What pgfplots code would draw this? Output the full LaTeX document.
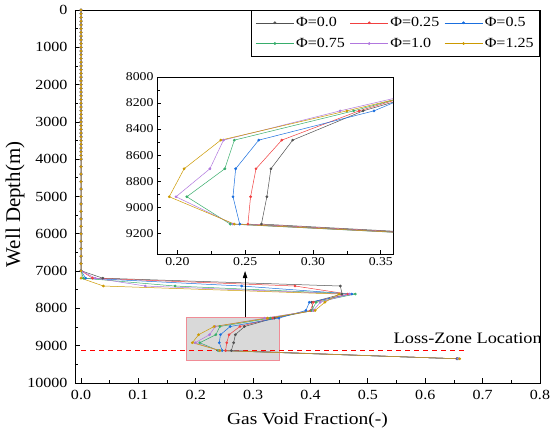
\documentclass[border=0pt]{standalone}
\usepackage{fontspec}
\setmainfont{Liberation Serif}[FakeStretch=1.15]
\newfontfamily\plainserif{Liberation Serif}
\usepackage{pgfplots}
\pgfplotsset{compat=1.18}
\usepackage{pgfplotstable}
\usetikzlibrary{arrows.meta}

\definecolor{c0}{HTML}{515151}
\definecolor{c1}{HTML}{F14040}
\definecolor{c2}{HTML}{1A6FDF}
\definecolor{c3}{HTML}{37AD6B}
\definecolor{c4}{HTML}{B177DE}
\definecolor{c5}{HTML}{CC9900}
\definecolor{lzred}{rgb}{1,0,0}
\definecolor{boxred}{HTML}{F08C96}
\definecolor{boxgray}{HTML}{D9D9D9}

\pgfplotstableread{
d p0 p1 p2 p3 p4 p5
0 0 0 0 0 0 0
100 0 0 0 0 0 0
200 0 0 0 0 0 0
300 0 0 0 0 0 0
400 0 0 0 0 0 0
500 0 0 0 0 0 0
600 0 0 0 0 0 0
700 0 0 0 0 0 0
800 0 0 0 0 0 0
900 0 0 0 0 0 0
1000 0 0 0 0 0 0
1100 0 0 0 0 0 0
1200 0 0 0 0 0 0
1300 0 0 0 0 0 0
1400 0 0 0 0 0 0
1500 0 0 0 0 0 0
1600 0 0 0 0 0 0
1700 0 0 0 0 0 0
1800 0 0 0 0 0 0
1900 0 0 0 0 0 0
2000 0 0 0 0 0 0
2100 0 0 0 0 0 0
2200 0 0 0 0 0 0
2300 0 0 0 0 0 0
2400 0 0 0 0 0 0
2500 0 0 0 0 0 0
2600 0 0 0 0 0 0
2700 0 0 0 0 0 0
2800 0 0 0 0 0 0
2900 0 0 0 0 0 0
3000 0 0 0 0 0 0
3100 0 0 0 0 0 0
3200 0 0 0 0 0 0
3300 0 0 0 0 0 0
3400 0 0 0 0 0 0
3500 0 0 0 0 0 0
3600 0 0 0 0 0 0
3700 0 0 0 0 0 0
3800 0 0 0 0 0 0
3900 0 0 0 0 0 0
4000 0 0 0 0 0 0
4200 0 0 0 0 0 0
4400 0 0 0 0 0 0
4600 0 0 0 0 0 0
4800 0 0 0 0 0 0
5000 0 0 0 0 0 0
5200 0 0 0 0 0 0
5400 0 0 0 0 0 0
5600 0 0 0 0 0 0
5800 0 0 0 0 0 0
6000 0 0 0 0 0 0
6200 0 0 0 0 0 0
6400 0 0 0 0 0 0
6600 0 0 0 0 0 0
6800 0 0 0 0 0 0
6990 0 0 0 0 0 0
7190 0.038 0.020 0.008 0.004 0.025 0.000
7400 0.452 0.373 0.280 0.164 0.112 0.039
7615 0.455 0.465 0.472 0.478 0.468 0.450
7835 0.402 0.405 0.398 0.410 0.417 0.425
8055 0.405 0.400 0.392 0.402 0.405 0.408
8260 0.337 0.334 0.345 0.330 0.320 0.325
8485 0.285 0.277 0.260 0.242 0.234 0.232
8705 0.269 0.258 0.243 0.235 0.224 0.205
8920 0.266 0.254 0.241 0.207 0.199 0.194
9130 0.262 0.252 0.246 0.239 0.241 0.242
9350 0.655 0.655 0.656 0.657 0.658 0.660
}\gvf

\pgfplotsset{
  ser/.style={line width=0.5pt, mark=*, mark size=1.1pt},
}

\begin{document}
\begin{tikzpicture}
\begin{axis}[
  scale only axis, width=465bp, height=373bp,
  xmin=-0.0105, xmax=0.8, ymin=0, ymax=10000, y dir=reverse,
  xtick={0,0.1,0.2,0.3,0.4,0.5,0.6,0.7,0.8}, minor x tick num=1,
  ytick={0,1000,2000,3000,4000,5000,6000,7000,8000,9000,10000}, minor y tick num=1,
  scaled ticks=false,
  tick align=inside, tick pos=left,
  major tick length=5bp, minor tick length=3bp,
  tick style={black, line width=0.8pt},
  axis line style={line width=1pt},
  xticklabel style={/pgf/number format/fixed, /pgf/number format/fixed zerofill, /pgf/number format/precision=1, yshift=-4bp},
  yticklabel style={/pgf/number format/set thousands separator={}, xshift=-4bp},
  /pgf/number format/assume math mode=true,
  tick label style={font=\fontsize{14}{16}\selectfont},
  xlabel={Gas Void Fraction(-)}, ylabel={Well Depth(m)},
  xlabel style={font=\fontsize{17}{20}\selectfont, yshift=-6bp},
  every axis y label/.style={at={(axis description cs:-0.129,0.479)}, rotate=90, anchor=center},
  ylabel style={font=\plainserif\fontsize{21}{24}\selectfont},
  legend columns=3,
  legend style={at={(1,1)}, anchor=north east, draw=black, line width=0.8pt,
    font=\fontsize{14}{16}\selectfont, inner xsep=4bp, inner ysep=5bp, row sep=6bp,
    /tikz/every even column/.append style={column sep=3bp}},
  legend cell align=left,
  legend image code/.code={\draw[mark repeat=2,mark phase=2] plot coordinates {(0bp,0bp) (19bp,0bp) (38bp,0bp)};},
]
\fill[boxgray] (axis cs:0.184,8240) rectangle (axis cs:0.346,9400);
\draw[boxred, line width=0.7pt] (axis cs:0.184,8240) rectangle (axis cs:0.346,9400);
\addplot[forget plot, no marks, color=lzred, solid, line width=1.1pt, dash pattern=on 5bp off 4bp] coordinates {(0,9140) (0.667,9140)};
\addplot[ser, c0] table[x=p0,y=d]{\gvf}; \addlegendentry{Φ=0.0}
\addplot[ser, c1] table[x=p1,y=d]{\gvf}; \addlegendentry{Φ=0.25}
\addplot[ser, c2] table[x=p2,y=d]{\gvf}; \addlegendentry{Φ=0.5}
\addplot[ser, c3] table[x=p3,y=d]{\gvf}; \addlegendentry{Φ=0.75}
\addplot[ser, c4] table[x=p4,y=d]{\gvf}; \addlegendentry{Φ=1.0}
\addplot[ser, c5] table[x=p5,y=d]{\gvf}; \addlegendentry{Φ=1.25}
\node[font=\fontsize{16}{19}\selectfont] at (axis cs:0.674,8790) {Loss-Zone Location};
\draw[-{Triangle[length=7bp,width=4.5bp]}, line width=0.6pt] (axis cs:0.286,8240) -- (axis cs:0.286,7000);
\end{axis}
\begin{axis}[
  at={(82bp,129bp)}, anchor=south west,
  scale only axis, width=236bp, height=177bp,
  xmin=0.185, xmax=0.359, ymin=8000, ymax=9360, y dir=reverse,
  axis background/.style={fill=white},
  xtick={0.2,0.25,0.3,0.35}, minor x tick num=1,
  ytick={8000,8200,8400,8600,8800,9000,9200}, minor y tick num=1,
  scaled ticks=false,
  tick align=inside, tick pos=left,
  major tick length=4bp, minor tick length=3bp,
  tick style={black, line width=0.6pt},
  axis line style={line width=0.8pt},
  xticklabel style={/pgf/number format/fixed, /pgf/number format/fixed zerofill, /pgf/number format/precision=2},
  yticklabel style={/pgf/number format/set thousands separator={}},
  /pgf/number format/assume math mode=true,
  tick label style={font=\fontsize{12}{14}\selectfont},
]
\addplot[ser, c0] table[x=p0,y=d]{\gvf};
\addplot[ser, c1] table[x=p1,y=d]{\gvf};
\addplot[ser, c2] table[x=p2,y=d]{\gvf};
\addplot[ser, c3] table[x=p3,y=d]{\gvf};
\addplot[ser, c4] table[x=p4,y=d]{\gvf};
\addplot[ser, c5] table[x=p5,y=d]{\gvf};
\end{axis}
\pgfresetboundingbox
\path (-75bp,-52bp) rectangle (475bp,383bp);
\end{tikzpicture}
\end{document}
